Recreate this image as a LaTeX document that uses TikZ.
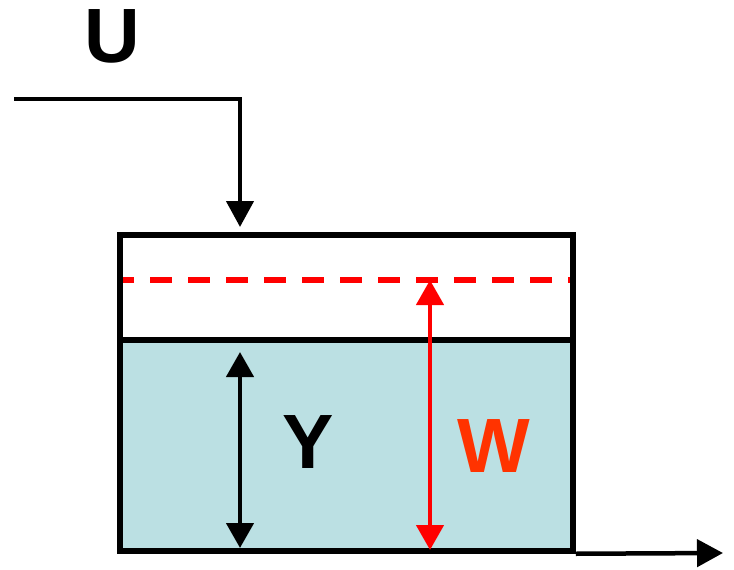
\documentclass[tikz,border=0pt]{standalone}
\usepackage{fontspec}
\setmainfont{Liberation Sans}
\usetikzlibrary{arrows.meta}
\definecolor{waterblue}{HTML}{BBE0E3}
\definecolor{wred}{HTML}{FF3300}

\begin{document}
\begin{tikzpicture}[
    x=1pt, y=-1pt,
    tankbox/.style={draw, line width=5.5pt, minimum width=453pt, minimum height=316pt, inner sep=0pt},
    arrow/.style={-{Triangle[width=27pt,length=26pt]}, line width=4.5pt},
    bothway/.style={{Triangle[width=27pt,length=25pt]}-{Triangle[width=27pt,length=25pt]}, line width=4.5pt},
    varname/.style={font=\fontsize{77}{77}\selectfont\bfseries, inner sep=0pt}
]
\useasboundingbox (0,0) rectangle (734,570);
% water in the tank
\fill[waterblue] (120,340) rectangle (573,551);
% target level
\draw[red, line width=5.5pt, dash pattern=on 22pt off 16pt, dash phase=10pt] (122,280) -- (573,280);
\node[tankbox] (tank) at (346.5,393) {};
\draw[line width=5.5pt] (tank.west |- 0,340) -- (tank.east |- 0,340);

% inflow and outflow
\coordinate (in) at (14,99);
\coordinate (inbend) at (240,99);
\coordinate (intip) at (240,227);
\coordinate (outtip) at (723,553);
\draw[arrow] (in) -- (inbend) -- (intip);
\draw[arrow] (tank.south east) -- (outtip);

% heights
\coordinate (ytop) at (240,352);
\coordinate (ybot) at (240,548);
\coordinate (wtop) at (430,280);
\coordinate (wbot) at (430,550);
\draw[bothway] (ytop) -- (ybot);
\draw[bothway, red] (wtop) -- (wbot);

\node[varname] (u) at (112,36) {U};
\node[varname] (y) at (308,442) {Y};
\node[varname, text=wred] (w) at (494,446) {W};
\end{tikzpicture}
\end{document}
